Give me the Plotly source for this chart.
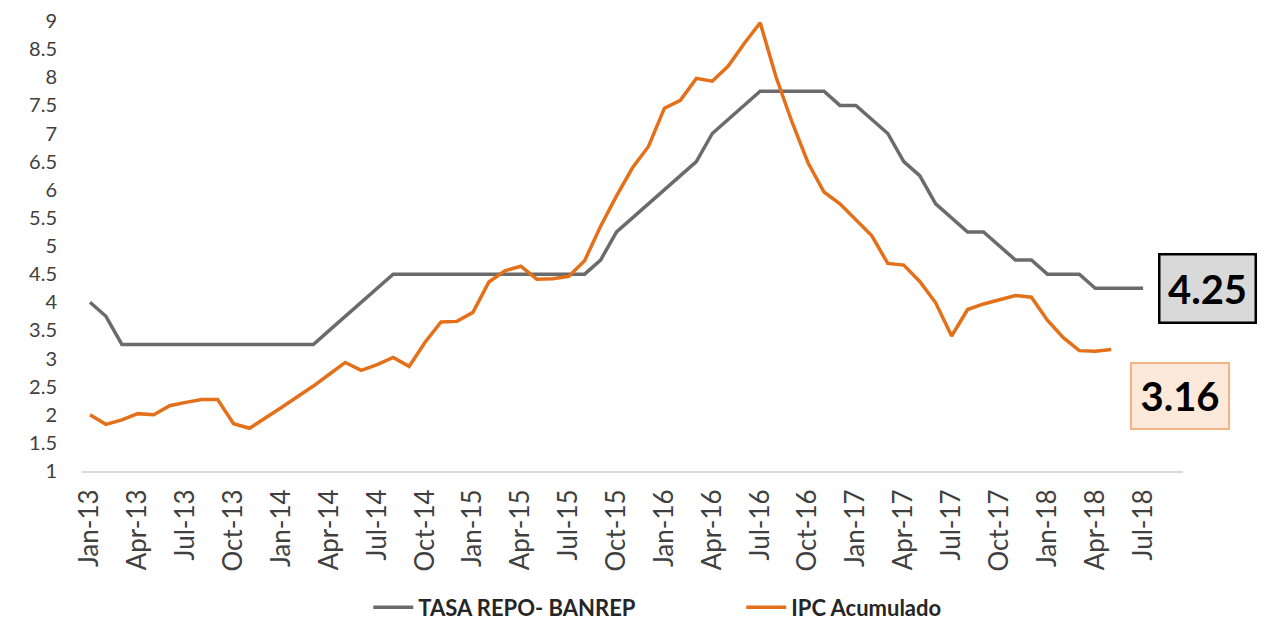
import plotly.graph_objects as go

month_names = ["Jan", "Feb", "Mar", "Apr", "May", "Jun", "Jul", "Aug", "Sep", "Oct", "Nov", "Dec"]
months = [f"{m}-{y}" for y in range(13, 19) for m in month_names][:67]  # Jan-13 .. Jul-18
tick_labels = months[::3]

# TASA REPO - BANREP (Jan-13 .. Jul-18)
repo = [
    4.00, 3.75, 3.25, 3.25, 3.25, 3.25, 3.25, 3.25, 3.25, 3.25, 3.25, 3.25,
    3.25, 3.25, 3.25, 3.50, 3.75, 4.00, 4.25, 4.50, 4.50, 4.50, 4.50, 4.50,
    4.50, 4.50, 4.50, 4.50, 4.50, 4.50, 4.50, 4.50, 4.75, 5.25, 5.50, 5.75,
    6.00, 6.25, 6.50, 7.00, 7.25, 7.50, 7.75, 7.75, 7.75, 7.75, 7.75, 7.50,
    7.50, 7.25, 7.00, 6.50, 6.25, 5.75, 5.50, 5.25, 5.25, 5.00, 4.75, 4.75,
    4.50, 4.50, 4.50, 4.25, 4.25, 4.25, 4.25,
]

# IPC Acumulado (Jan-13 .. May-18)
ipc = [
    2.00, 1.83, 1.91, 2.02, 2.00, 2.16, 2.22, 2.27, 2.27, 1.84, 1.76, 1.94,
    2.13, 2.32, 2.51, 2.72, 2.93, 2.79, 2.89, 3.02, 2.86, 3.29, 3.65, 3.66,
    3.82, 4.36, 4.56, 4.64, 4.41, 4.42, 4.46, 4.74, 5.35, 5.89, 6.39, 6.77,
    7.45, 7.59, 7.98, 7.93, 8.20, 8.60, 8.97, 8.00, 7.20, 6.48, 5.96, 5.75,
    5.47, 5.18, 4.69, 4.66, 4.37, 3.99, 3.40, 3.87, 3.97, 4.05, 4.12, 4.09,
    3.68, 3.37, 3.14, 3.13, 3.16,
]

GRAY = "#6B6B6B"
ORANGE = "#E4701A"
FONT = "Lato"

fig = go.Figure()
fig.add_trace(go.Scatter(x=months, y=repo, mode="lines", name="TASA REPO- BANREP",
                         line=dict(color=GRAY, width=3.5)))
fig.add_trace(go.Scatter(x=months[:len(ipc)], y=ipc, mode="lines", name="IPC Acumulado",
                         line=dict(color=ORANGE, width=3.5)))

fig.add_annotation(text="<b>4.25</b>", xref="paper", yref="y", x=1.022, y=4.25,
                   xanchor="center", yanchor="middle",
                   showarrow=False, font=dict(family=FONT, size=40, color="black"),
                   bgcolor="#D9D9D9", bordercolor="black", borderwidth=2.5,
                   borderpad=2, width=90, height=62)
fig.add_annotation(text="<b>3.16</b>", xref="paper", yref="y", x=0.997, y=2.33,
                   xanchor="center", yanchor="middle",
                   showarrow=False, font=dict(family=FONT, size=40, color="black"),
                   bgcolor="#FDE9D9", bordercolor="#F4B183", borderwidth=2,
                   borderpad=2, width=92, height=60)

# the page body adds an 8px offset at top/left
fig.update_layout(
    width=1258, height=612,
    margin=dict(l=74, r=83, t=13, b=149, autoexpand=False),
    plot_bgcolor="white", paper_bgcolor="white",
    font=dict(family=FONT, color="#404040"),
    showlegend=True,
    legend=dict(orientation="h", x=0.26, xanchor="left", y=-0.303, yanchor="middle",
                font=dict(family=FONT, size=22, color="#262626", weight="bold"),
                itemwidth=40, entrywidth=318),
)
fig.update_xaxes(
    type="category", range=[-0.5, 68.5], automargin=False,
    tickmode="array", tickvals=tick_labels, ticktext=tick_labels,
    tickangle=-90, tickfont=dict(size=26, color="#404040"),
    showline=True, linecolor="#D9D9D9", linewidth=2,
    showgrid=False, zeroline=False, ticks="", ticklabelstandoff=6,
)
fig.update_yaxes(
    range=[1, 9], tick0=1, dtick=0.5, automargin=False,
    tickfont=dict(size=20, color="#404040"), ticklabeloverflow="allow",
    showgrid=False, zeroline=False, showline=False, ticks="",
    ticklabelstandoff=24,
)

fig.write_html("out.html")
